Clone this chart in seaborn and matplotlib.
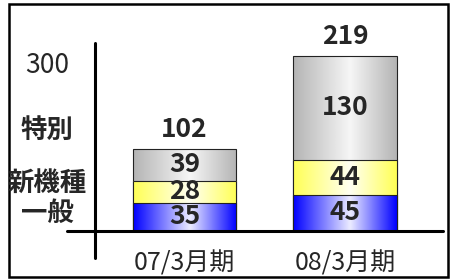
import numpy as np
import pandas as pd
import matplotlib
matplotlib.use("Agg")
import matplotlib.pyplot as plt
import seaborn as sns
from matplotlib.colors import LinearSegmentedColormap
from matplotlib.patches import Rectangle
from matplotlib.lines import Line2D

# data
periods = ["07/3月期", "08/3月期"]
ippan = [35, 45]        # 一般 (bottom)
shinkishu = [28, 44]    # 新機種 (middle)
tokubetsu = [39, 130]   # 特別 (top)
totals = [102, 219]
series_names = ["特別", "新機種", "一般"]
axis_note = "300"

df = pd.DataFrame({"period": periods, "ippan": ippan, "shinkishu": shinkishu, "tokubetsu": tokubetsu})
df["cum_mid"] = df["ippan"] + df["shinkishu"]
df["cum_top"] = df["cum_mid"] + df["tokubetsu"]

sns.set_style("white")
plt.rcParams["font.family"] = ["Noto Sans CJK JP", "DejaVu Sans"]

W, H = 450, 280
fig = plt.figure(figsize=(W / 100, H / 100), dpi=100)
# axes: baseline from x=67 to 443 px, y=231 px; top at 43 px
ax = fig.add_axes([67 / W, 1 - 231 / H, (443 - 67) / W, (231 - 43) / H])

layers = [
    ("cum_top", ["#b4b4b4", "#f6f6f6", "#b4b4b4"]),
    ("cum_mid", ["#ffff55", "#fffff2", "#ffff55"]),
    ("ippan", ["#0000ff", "#ececff", "#0000ff"]),
]
bar_w = 104 / 160.5
grad = np.linspace(0, 1, 256).reshape(1, -1)
z = 1.0
for col, cols in layers:
    n_before = len(ax.patches)
    sns.barplot(data=df, x="period", y=col, color=cols[0], saturation=1,
                width=bar_w, edgecolor="#222222", linewidth=0.8, ax=ax, errorbar=None)
    cmap = LinearSegmentedColormap.from_list(col, list(zip([0, 0.55, 1], cols)))
    for p in ax.patches[n_before:]:
        x0, y0 = p.get_x(), p.get_y()
        x1, y1 = x0 + p.get_width(), y0 + p.get_height()
        p.set_facecolor("none")
        p.set_zorder(z + 0.1)
        im = ax.imshow(grad, cmap=cmap, aspect="auto", extent=[x0, x1, y0, y1],
                       zorder=z, interpolation="bicubic")
        im.set_clip_path(p)
    z += 0.2

ax.set_xlim(-117.5 / 160.5, 258.5 / 160.5)
ax.set_ylim(0, 235)
ax.set_xlabel("")
ax.set_ylabel("")
ax.set_yticks([])
ax.tick_params(axis="x", length=0, pad=14, labelsize=18)
for s in ax.spines.values():
    s.set_visible(False)

# segment labels
for i in range(len(periods)):
    mids = [ippan[i] / 2, ippan[i] + shinkishu[i] / 2, ippan[i] + shinkishu[i] + tokubetsu[i] / 2]
    for m, v in zip(mids, [ippan[i], shinkishu[i], tokubetsu[i]]):
        ax.text(i, m, str(v), ha="center", va="center", fontsize=19, fontweight="bold", zorder=5)
    ax.annotate(str(totals[i]), (i, totals[i]), xytext=(0, 14), textcoords="offset points",
                ha="center", va="center", fontsize=19, fontweight="bold", annotation_clip=False)

# axis lines like the original
fig.add_artist(Line2D([67 / W, 443 / W], [1 - 231 / H] * 2, color="black", lw=2.2))
fig.add_artist(Line2D([95 / W] * 2, [1 - 43 / H, 1 - 258 / H], color="black", lw=2.2))

# left-side labels
fig.text(47 / W, 1 - 65 / H, axis_note, ha="center", va="center", fontsize=19)
for name, ypx in zip(series_names, [130, 183, 213]):
    fig.text(47 / W, 1 - ypx / H, name, ha="center", va="center", fontsize=19, fontweight="bold")

# outer frame
fig.add_artist(Rectangle((9 / W, 1 - 277 / H), 439 / W, 273 / H, fill=False,
                         edgecolor="black", lw=1.8, transform=fig.transFigure))

fig.savefig("out.png", dpi=100)
